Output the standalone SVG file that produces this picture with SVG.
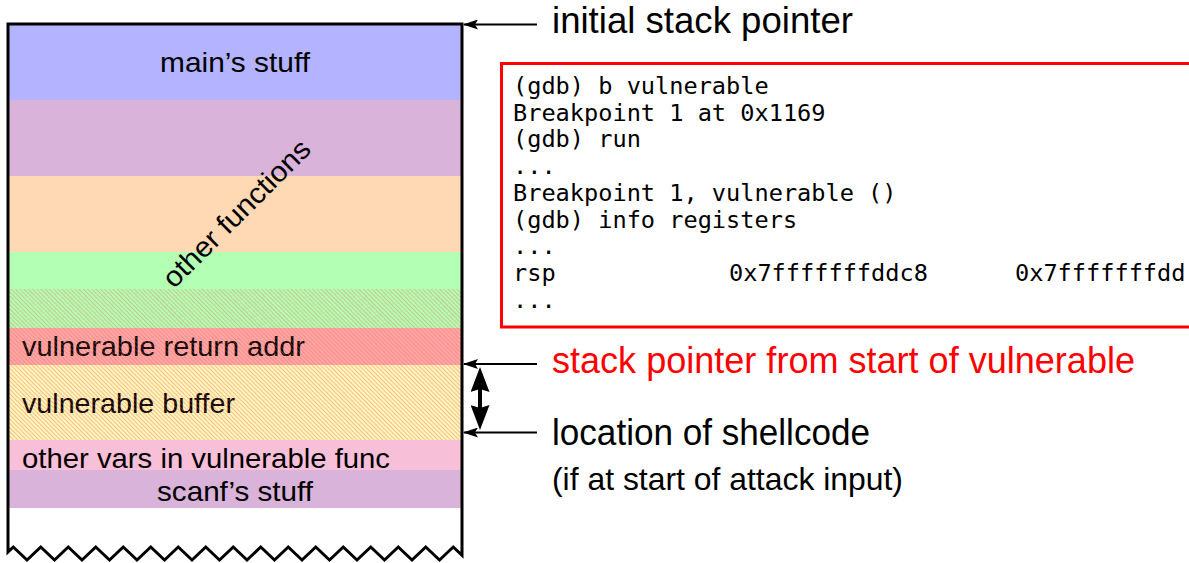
<svg xmlns="http://www.w3.org/2000/svg" width="1189" height="563" viewBox="0 0 1189 563">
  <defs>
    <style>
      .lbl{font-family:"Liberation Sans",Arial,sans-serif;fill:#000}
      .seg{font-size:28.5px}
      .side{font-size:36px}
      .note{font-size:30.5px}
      .mono{font-family:"DejaVu Sans Mono","Liberation Mono",monospace;font-size:23.6px;fill:#000}
      .ptr{stroke:#000;stroke-width:2;fill:none}
      .outline{fill:none;stroke:#000;stroke-width:3;stroke-linejoin:miter}
    </style>
    <!-- thin diagonal hatching used over the overwritten region -->
    <pattern id="hatch" width="3" height="3" patternUnits="userSpaceOnUse" patternTransform="rotate(-45)">
      <line x1="1.5" y1="0" x2="1.5" y2="3" stroke="#f0604e" stroke-width="0.8" stroke-opacity="0.45"/>
    </pattern>
    <marker id="tip" markerUnits="userSpaceOnUse" viewBox="0 0 15 10" markerWidth="15" markerHeight="10" refX="14" refY="5" orient="auto">
      <path d="M0,0 L15,5 L0,10 L3,5 z" fill="#000"/>
    </marker>
    <marker id="bigtip" markerUnits="userSpaceOnUse" viewBox="0 0 25 19" markerWidth="25" markerHeight="19" refX="20" refY="9.5" orient="auto-start-reverse">
      <path d="M0,0 L25,9.5 L0,19 L3,9.5 z" fill="#000"/>
    </marker>
  </defs>

  <rect width="1189" height="563" fill="#fff"/>

  <!-- stack frames, top (high addresses) to bottom -->
  <g id="main-frame">
    <rect x="8" y="24" width="454" height="76" fill="#b3b3ff"/>
    <text class="lbl seg" x="235" y="72" text-anchor="middle" textLength="150" lengthAdjust="spacingAndGlyphs">main’s stuff</text>
  </g>
  <g id="other-functions">
    <rect x="8" y="100" width="454" height="76" fill="#d9b3d9"/>
    <rect x="8" y="176" width="454" height="76" fill="#ffd9b3"/>
    <rect x="8" y="252" width="454" height="76" fill="#b3ffb3"/>
    <text class="lbl seg" transform="translate(238,215) rotate(-45)" x="0" y="7.5" text-anchor="middle" textLength="196" lengthAdjust="spacingAndGlyphs">other functions</text>
  </g>
  <g id="return-addr">
    <rect x="8" y="328" width="454" height="37" fill="#ffa6a6"/>
    <text class="lbl seg" x="22" y="356" textLength="283" lengthAdjust="spacingAndGlyphs">vulnerable return addr</text>
  </g>
  <g id="buffer">
    <rect x="8" y="365" width="454" height="75" fill="#fff5b8"/>
    <text class="lbl seg" x="22" y="413" textLength="213" lengthAdjust="spacingAndGlyphs">vulnerable buffer</text>
  </g>
  <!-- overflowed bytes: buffer, return address and part of the caller -->
  <rect x="8" y="289" width="454" height="151" fill="url(#hatch)"/>
  <g id="other-vars">
    <rect x="8" y="440" width="454" height="30" fill="#f7bfd8"/>
    <text class="lbl seg" x="22" y="468" textLength="368" lengthAdjust="spacingAndGlyphs">other vars in vulnerable func</text>
  </g>
  <g id="scanf-frame">
    <rect x="8" y="470" width="454" height="38" fill="#d9b3d9"/>
    <text class="lbl seg" x="235" y="501" text-anchor="middle" textLength="156" lengthAdjust="spacingAndGlyphs">scanf’s stuff</text>
  </g>

  <!-- stack outline with torn bottom edge -->
  <path class="outline" d="M8,552 L8,24 L462,24 L462,555.3 L453.25,547 L439.5,560 L425.75,547 L412,560 L398.25,547 L384.5,560 L370.75,547 L357,560 L343.25,547 L329.5,560 L315.75,547 L302,560 L288.25,547 L274.5,560 L260.75,547 L247,560 L233.25,547 L219.5,560 L205.75,547 L192,560 L178.25,547 L164.5,560 L150.75,547 L137,560 L123.25,547 L109.5,560 L95.75,547 L82,560 L68.25,547 L54.5,560 L40.75,547 L27,560 L13.25,547 Z"/>

  <!-- gdb session -->
  <g id="gdb">
    <rect x="501.5" y="63.5" width="720" height="263.5" fill="#fff" stroke="#ff0000" stroke-width="3"/>
    <text class="mono" x="513" y="94">(gdb) b vulnerable</text>
    <text class="mono" x="513" y="120.7">Breakpoint 1 at 0x1169</text>
    <text class="mono" x="513" y="147.4">(gdb) run</text>
    <text class="mono" x="513" y="174.1">...</text>
    <text class="mono" x="513" y="200.9">Breakpoint 1, vulnerable ()</text>
    <text class="mono" x="513" y="227.6">(gdb) info registers</text>
    <text class="mono" x="513" y="254.3">...</text>
    <text class="mono" y="281"><tspan x="513">rsp</tspan><tspan x="729">0x7fffffffddc8</tspan><tspan x="1015">0x7fffffffdd</tspan></text>
    <text class="mono" x="513" y="307.8">...</text>
  </g>

  <!-- pointer labels -->
  <g id="label-initial-sp">
    <text class="lbl side" x="552" y="33" textLength="301" lengthAdjust="spacingAndGlyphs">initial stack pointer</text>
  </g>
  <g id="label-vuln-sp">
    <text class="lbl side" x="552" y="373" style="fill:#ff0000" textLength="583" lengthAdjust="spacingAndGlyphs">stack pointer from start of vulnerable</text>
  </g>
  <g id="label-shellcode">
    <text class="lbl side" x="552" y="445" textLength="318" lengthAdjust="spacingAndGlyphs">location of shellcode</text>
    <text class="lbl note" x="552" y="490" textLength="351" lengthAdjust="spacingAndGlyphs">(if at start of attack input)</text>
  </g>

  <!-- connectors -->
  <g id="connectors">
    <line class="ptr" x1="537" y1="24.5" x2="464" y2="24.5" marker-end="url(#tip)"/>
    <line class="ptr" x1="537" y1="364" x2="464" y2="364" marker-end="url(#tip)"/>
    <line class="ptr" x1="537" y1="432.5" x2="464" y2="432.5" marker-end="url(#tip)"/>
    <line x1="480" y1="372" x2="480" y2="425" stroke="#000" stroke-width="4" marker-start="url(#bigtip)" marker-end="url(#bigtip)"/>
  </g>
</svg>
